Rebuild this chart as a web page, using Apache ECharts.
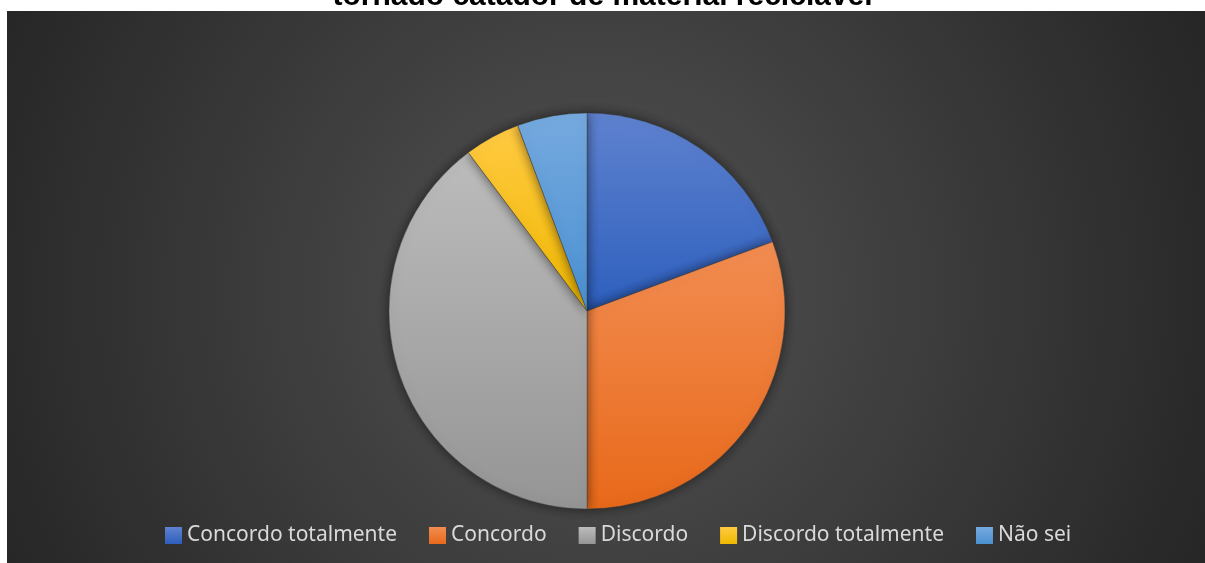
<!DOCTYPE html>
<html>
<head>
<meta charset="utf-8">
<script src="https://cdn.jsdelivr.net/npm/echarts@6/dist/echarts.min.js"></script>
<style>
  html, body { margin: 0; padding: 0; background: #fff; }
  #chart { width: 1205px; height: 563px; }
</style>
</head>
<body>
<div id="chart"></div>
<script>
const titleText = 'tornado catador de material reciclável';
const categories = ['Concordo totalmente', 'Concordo', 'Discordo', 'Discordo totalmente', 'Não sei'];
const values = [17, 27, 35, 4, 5];
// top / bottom colour of each slice gradient
const topColors = ['#5f82cf', '#f28d52', '#bcbcbc', '#ffca42', '#76aadf'];
const bottomColors = ['#2d5fbd', '#e8691a', '#959595', '#f0b800', '#4a90d2'];

const chart = echarts.init(document.getElementById('chart'));

const pieData = categories.map((name, i) => ({
  name: name,
  value: values[i],
  itemStyle: {
    color: new echarts.graphic.LinearGradient(0, 0, 0, 1, [
      { offset: 0, color: topColors[i] },
      { offset: 1, color: bottomColors[i] }
    ])
  }
}));

chart.setOption({
  backgroundColor: '#ffffff',
  animation: false,
  graphic: [{
    type: 'rect',
    z: -1,
    silent: true,
    shape: { x: 7, y: 11, width: 1198, height: 552 },
    style: {
      fill: new echarts.graphic.RadialGradient(600, 290, 660, [
        { offset: 0, color: '#535353' },
        { offset: 1, color: '#262626' }
      ], true)
    }
  }],
  title: {
    text: titleText,
    left: 'center',
    top: -23,
    textStyle: {
      fontFamily: 'Liberation Sans',
      fontWeight: 'bold',
      fontSize: 30,
      color: '#000000'
    }
  },
  legend: {
    data: categories,
    left: 160,
    top: 520,
    icon: 'rect',
    itemWidth: 17,
    itemHeight: 17,
    itemGap: 32,
    itemStyle: { borderWidth: 0, shadowBlur: 0 },
    textStyle: {
      color: '#d9d9d9',
      fontFamily: 'Noto Sans',
      fontSize: 21
    }
  },
  series: [{
    type: 'pie',
    center: [587, 311],
    radius: 198,
    startAngle: 90,
    clockwise: true,
    label: { show: false },
    labelLine: { show: false },
    emphasis: { disabled: true },
    itemStyle: {
      borderColor: 'rgba(60,60,60,0.5)',
      borderWidth: 0.8,
      shadowBlur: 12,
      shadowColor: 'rgba(0,0,0,0.55)'
    },
    data: pieData
  }]
});
</script>
</body>
</html>
